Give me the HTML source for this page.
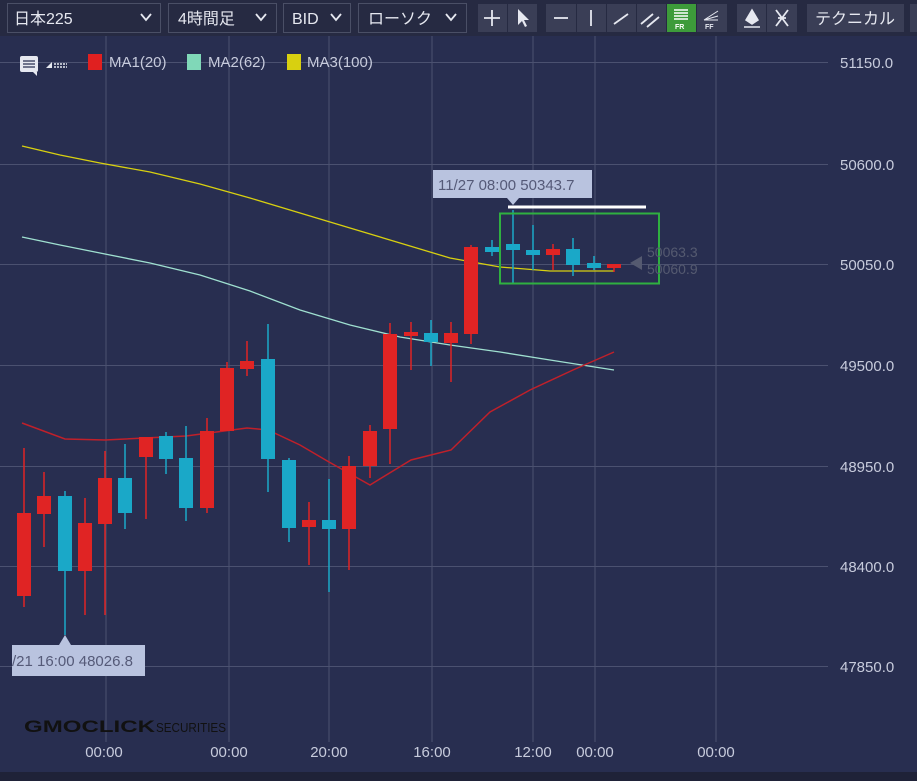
<!DOCTYPE html>
<html><head><meta charset="utf-8"><style>
html,body{margin:0;padding:0;background:#282e50;width:917px;height:781px;overflow:hidden;font-family:"Liberation Sans","Noto Sans CJK JP",sans-serif}
</style></head><body>
<svg width="917" height="781" viewBox="0 0 917 781" xmlns="http://www.w3.org/2000/svg" font-family="Liberation Sans, Noto Sans CJK JP, sans-serif">
<rect x="0" y="0" width="917" height="781" fill="#282e50"/>
<rect x="0" y="0" width="917" height="36" fill="#262a42"/>
<rect x="0" y="772" width="917" height="9" fill="#1f2238"/>
<g fill="#262a42" stroke="#4a4f66" stroke-width="1">
<rect x="7.5" y="3.5" width="153" height="29"/>
<rect x="168.5" y="3.5" width="108" height="29"/>
<rect x="283.5" y="3.5" width="67" height="29"/>
<rect x="358.5" y="3.5" width="108" height="29"/>
</g>
<g fill="#3a3e56">
<rect x="478" y="4" width="29" height="28"/><rect x="508" y="4" width="29" height="28"/>
<rect x="546" y="4" width="30" height="28"/><rect x="577" y="4" width="29" height="28"/><rect x="607" y="4" width="29" height="28"/><rect x="637" y="4" width="29" height="28"/><rect x="697" y="4" width="30" height="28"/>
<rect x="737" y="4" width="29" height="28"/><rect x="767" y="4" width="30" height="28"/>
<rect x="807" y="4" width="97" height="28"/><rect x="910" y="4" width="10" height="28"/>
</g>
<rect x="667" y="4" width="29" height="28" fill="#3d9b3a"/>
<g fill="#e6e8f0" font-size="16">
<text x="14" y="24">日本225</text>
<text x="178" y="24">4時間足</text>
<text x="292" y="24">BID</text>
<text x="368" y="24">ローソク</text>
<text x="815" y="24">テクニカル</text>
</g>
<g fill="none" stroke="#e6e8f0" stroke-width="1.8">
<path d="M141 14 l5 6 l5 -6"/><path d="M256 14 l5 6 l5 -6"/><path d="M331 14 l5 6 l5 -6"/><path d="M446 14 l5 6 l5 -6"/>
<path d="M492 10 v16 M484 18 h16"/>
<path d="M554 18 h14"/><path d="M591 10 v16"/><path d="M614 24 l14 -10"/><path d="M641 24 l12 -10 M647 27 l12 -10"/>
</g>
<path d="M518 9 l0 16 l4 -4 l3 6 l2 -1 l-3 -6 l5 0 z" fill="#e6e8f0"/>
<g stroke="#fff" stroke-width="1.5"><path d="M674 10 h14 M674 13 h14 M674 16 h14 M674 19 h14"/></g>
<text x="675" y="29" font-size="7" fill="#fff" font-weight="bold">FR</text>
<path d="M704 20 l14 -9 M704 20 l14 -4 M704 20 h14" stroke="#e6e8f0" stroke-width="1"/>
<text x="705" y="29" font-size="7" fill="#e6e8f0" font-weight="bold">FF</text>
<path d="M746 20 l6 -10 l6 10 l-6 4 z M744 27 h16" fill="#e6e8f0" stroke="#e6e8f0" stroke-width="1.5"/>
<path d="M776 10 l12 16 M788 10 l-12 16 M778 18 h8" stroke="#e6e8f0" stroke-width="1.8" fill="none"/>
<g stroke="#4b5170" stroke-width="1">
<path d="M106 36 V742 M229 36 V742 M329 36 V742 M432 36 V742 M533 36 V742 M595 36 V742 M716 36 V742"/>
<path d="M0 62.5 H828 M0 164.5 H828 M0 264.5 H828 M0 365.5 H828 M0 466.5 H828 M0 566.5 H828 M0 666.5 H828"/>
</g>
<g fill="#c7cbdc" font-size="15">
<text x="840" y="68">51150.0</text><text x="840" y="170">50600.0</text><text x="840" y="270">50050.0</text><text x="840" y="371">49500.0</text><text x="840" y="472">48950.0</text><text x="840" y="572">48400.0</text><text x="840" y="672">47850.0</text>
</g>
<g fill="#c7cbdc" font-size="15" text-anchor="middle">
<text x="104" y="757">00:00</text><text x="229" y="757">00:00</text><text x="329" y="757">20:00</text><text x="432" y="757">16:00</text><text x="533" y="757">12:00</text><text x="595" y="757">00:00</text><text x="716" y="757">00:00</text>
</g>
<rect x="20" y="56" width="18" height="16" rx="2" fill="#e6e8f0"/><path d="M23 61 h12 M23 64 h12 M23 67 h12" stroke="#282e50" stroke-width="1.3"/><path d="M33 72 l4 4 v-4z" fill="#e6e8f0"/>
<path d="M46 68 l6 -6 v6 z" fill="#e6e8f0"/><path d="M54 64 h13 M54 67 h13" stroke="#e6e8f0" stroke-width="1.5" stroke-dasharray="2 1"/>
<rect x="88" y="54" width="14" height="16" fill="#e02020"/><text x="109" y="67" font-size="15" fill="#c7cbdc">MA1(20)</text>
<rect x="187" y="54" width="14" height="16" fill="#80d8b8"/><text x="208" y="67" font-size="15" fill="#c7cbdc">MA2(62)</text>
<rect x="287" y="54" width="14" height="16" fill="#d8d010"/><text x="307" y="67" font-size="15" fill="#c7cbdc">MA3(100)</text>
<polyline fill="none" stroke="#d8d010" stroke-width="1.3" points="22,146 60,155 100,163 150,172 200,184 250,198 300,213 350,228 400,243 450,258 500,267 550,271 614,271"/>
<polyline fill="none" stroke="#9fe0d0" stroke-width="1.3" points="22,237 60,245 100,253 150,263 200,275 250,291 300,310 350,325 400,337 450,345 500,352 550,360 614,370"/>
<polyline fill="none" stroke="#c0202a" stroke-width="1.5" points="22,423 65,439 105,440 186,436 247,428 268,430 300,445 329,462 370,485 411,460 451,450 490,412 530,390 573,370 614,352"/>
<g id="c"></g>
<rect x="500" y="213.5" width="159" height="70" fill="none" stroke="#2fb040" stroke-width="2"/>
<path d="M508 207 H646" stroke="#fff" stroke-width="3"/>
<rect x="433" y="170" width="159" height="28" fill="#b9c3df"/><path d="M507 198 l6 7 l6 -7z" fill="#b9c3df"/>
<text x="438" y="190" font-size="15" fill="#555a78">11/27 08:00 50343.7</text>
<rect x="12" y="645" width="133" height="31" fill="#b9c3df"/><path d="M59 645 l6 -10 l6 10z" fill="#b9c3df"/>
<text x="12" y="666" font-size="15" fill="#555a78">/21 16:00 48026.8</text>
<path d="M630 263 l12 -7 v14z" fill="#555a70"/>
<text x="647" y="257" font-size="14" fill="#555a70">50063.3</text><text x="647" y="274" font-size="14" fill="#555a70">50060.9</text>
<text x="24" y="732" font-size="17" font-weight="bold" fill="#111" textLength="131" lengthAdjust="spacingAndGlyphs">GMOCLICK</text><text x="156" y="732" font-size="13" fill="#111" textLength="70" lengthAdjust="spacingAndGlyphs">SECURITIES</text>
</svg>
<script>
var d=[[24,513,596,448,607,'r'],[44,496,514,472,547,'r'],[65,496,571,491,635,'b'],[85,523,571,498,615,'r'],[105,478,524,451,615,'r'],[125,478,513,444,529,'b'],[146,437,457,437,519,'r'],[166,436,459,432,474,'b'],[186,458,508,426,521,'b'],[207,431,508,418,513,'r'],[227,368,431,362,431,'r'],[247,361,369,341,376,'r'],[268,359,459,324,492,'b'],[289,460,528,458,542,'b'],[309,520,527,502,565,'r'],[329,520,529,479,592,'b'],[349,466,529,456,570,'r'],[370,431,466,425,478,'r'],[390,334,429,323,464,'r'],[411,332,336,322,370,'r'],[431,333,342,320,366,'b'],[451,333,343,322,382,'r'],[471,247,334,245,344,'r'],[492,247,252,240,256,'b'],[513,244,250,210,283,'b'],[533,250,255,225,270,'b'],[553,249,255,244,270,'r'],[573,249,265,238,276,'b'],[594,263,268,256,270,'b'],[614,264,268,264,272,'r']];
var g=document.getElementById('c'),s='';
d.forEach(function(c){var col=c[5]=='r'?'#e02424':'#1aa8c8';
s+='<rect x="'+(c[0]-0.75)+'" y="'+c[3]+'" width="1.5" height="'+(c[4]-c[3])+'" fill="'+col+'"/>';
s+='<rect x="'+(c[0]-7)+'" y="'+c[1]+'" width="14" height="'+Math.max(3,c[2]-c[1])+'" fill="'+col+'"/>';});
g.innerHTML=s;
</script>
</body></html>
